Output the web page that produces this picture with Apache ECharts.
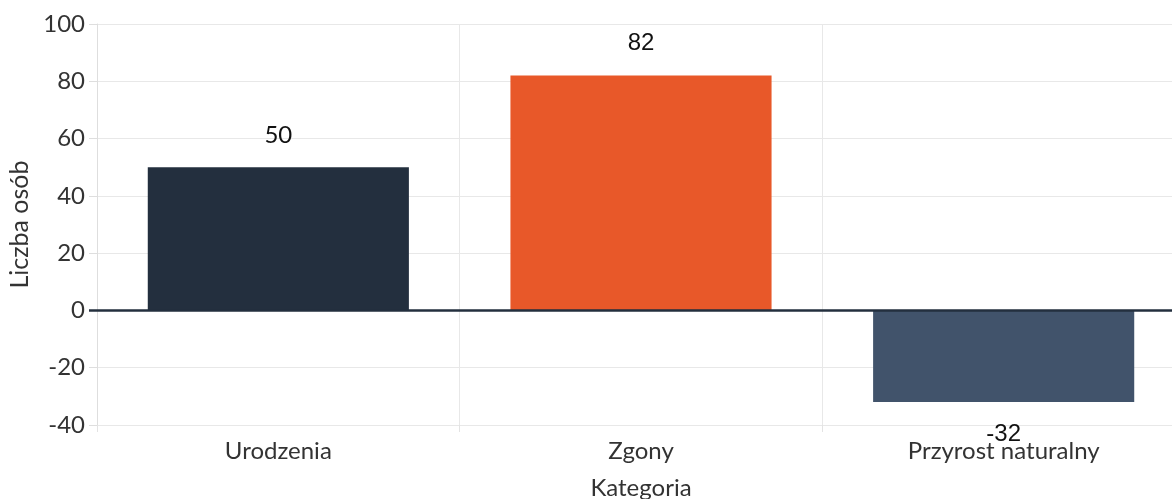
<!DOCTYPE html>
<html>
<head>
<meta charset="utf-8">
<script src="https://cdn.jsdelivr.net/npm/echarts@6/dist/echarts.min.js"></script>
<style>
html,body{margin:0;padding:0;background:#fff;overflow:hidden;width:1172px;height:499px;}
#chart{width:1185px;height:499px;}
</style>
</head>
<body>
<div id="chart"></div>
<script>
const categories = ['Urodzenia', 'Zgony', 'Przyrost naturalny'];
const values = [50, 82, -32];
const barColors = ['#232f3e', '#e85829', '#41536b'];
const labelFonts = ['Lato', 'Liberation Sans', 'Liberation Sans'];
const yTicks = { min: -40, max: 100, interval: 20 };

const chart = echarts.init(document.getElementById('chart'), null, { renderer: 'canvas' });
chart.setOption({
  animation: false,
  backgroundColor: '#ffffff',
  textStyle: { fontFamily: 'Lato' },
  grid: { left: 97, right: 0, top: 24, bottom: 74, containLabel: false, outerBoundsMode: 'none' },
  xAxis: {
    type: 'category',
    data: categories,
    name: 'Kategoria',
    nameLocation: 'middle',
    nameGap: 51,
    nameTextStyle: { fontFamily: 'Lato', fontSize: 24, color: '#333', verticalAlign: 'top' },
    axisLine: { onZero: false, show: false },
    axisTick: { show: true, length: 7, lineStyle: { color: '#e3e3e3' } },
    axisLabel: { fontFamily: 'Lato', fontSize: 24, color: '#333', margin: 14 },
    splitLine: { show: true, lineStyle: { color: '#e8e8e8' } }
  },
  yAxis: [{
    type: 'value',
    min: yTicks.min,
    max: yTicks.max,
    interval: yTicks.interval,
    name: 'Liczba osób',
    nameLocation: 'middle',
    nameGap: 63,
    nameTextStyle: { fontFamily: 'Lato', fontSize: 25, color: '#333' },
    axisLine: { show: true, lineStyle: { color: '#dedede' } },
    axisTick: { show: true, length: 8, lineStyle: { color: '#dedede' } },
    axisLabel: { fontFamily: 'Lato', fontSize: 24, color: '#333', margin: 12 },
    splitLine: { show: true, lineStyle: { color: '#e8e8e8' } }
  }, {
    type: 'value',
    position: 'left',
    min: yTicks.min,
    max: yTicks.max,
    interval: yTicks.interval,
    axisLine: { show: false },
    axisLabel: { show: false },
    splitLine: { show: false },
    axisTick: { show: true, length: 8, customValues: [0], lineStyle: { color: '#232f3e', width: 2.5 } }
  }],
  series: [{
    type: 'bar',
    barWidth: '72%',
    data: values.map((v, i) => ({
      value: v,
      itemStyle: { color: barColors[i] },
      label: { position: v >= 0 ? 'top' : 'bottom', fontFamily: labelFonts[i] }
    })),
    label: {
      show: true,
      distance: 20,
      fontFamily: 'Lato',
      fontSize: 24,
      color: '#111'
    },
    markLine: {
      silent: true,
      symbol: 'none',
      label: { show: false },
      lineStyle: { color: '#232f3e', width: 2.5, type: 'solid' },
      data: [{ yAxis: 0 }]
    }
  }]
});
</script>
</body>
</html>
